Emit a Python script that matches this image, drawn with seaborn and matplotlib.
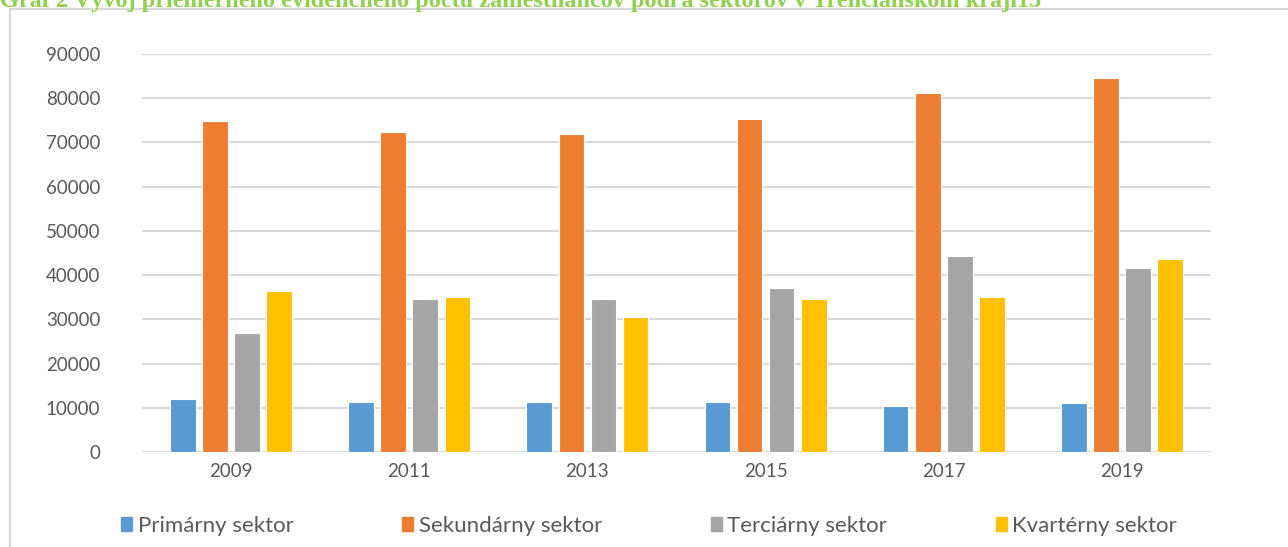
import pandas as pd
import matplotlib.pyplot as plt
import seaborn as sns
from matplotlib.patches import Rectangle

# Data
years = ['2009', '2011', '2013', '2015', '2017', '2019']
sectors = ['Primárny sektor', 'Sekundárny sektor', 'Terciárny sektor', 'Kvartérny sektor']
primarny = [12000, 11300, 11300, 11200, 10300, 11000]
sekundarny = [74800, 72300, 71900, 75300, 81100, 84500]
terciarny = [27000, 34600, 34600, 37000, 44400, 41500]
kvarterny = [36500, 35000, 30500, 34600, 35000, 43700]
colors = ['#5B9BD5', '#ED7D31', '#A5A5A5', '#FFC000']

title = ('Graf 2 Vývoj priemerného evidenčného počtu zamestnancov '
         'podľa sektorov v Trenčianskom kraji15')

rows = []
for name, vals in zip(sectors, [primarny, sekundarny, terciarny, kvarterny]):
    for y, v in zip(years, vals):
        rows.append({'rok': y, 'sektor': name, 'pocet': v})
df = pd.DataFrame(rows)

sns.set_style('white')
plt.rcParams['font.family'] = ['Lato', 'DejaVu Sans']

fig = plt.figure(figsize=(12.88, 5.47), dpi=100)
ax = fig.add_axes([142 / 1288, 1 - 452 / 547, (1211 - 142) / 1288, (452 - 54) / 547])

sns.barplot(data=df, x='rok', y='pocet', hue='sektor', order=years,
            hue_order=sectors, palette=colors, saturation=1, width=0.72, gap=0.2,
            edgecolor='white', linewidth=0.8, ax=ax, zorder=3)

ax.set_ylim(0, 90000)
ax.set_yticks(range(0, 90001, 10000))
ax.set_xlim(-0.5, len(years) - 0.5)
ax.yaxis.grid(True, color='#D9D9D9', linewidth=1.5, zorder=0)
ax.set_axisbelow(True)
for s in ax.spines.values():
    s.set_visible(False)
ax.set_xlabel('')
ax.set_ylabel('')
ax.tick_params(axis='y', length=0, pad=30, labelsize=13.5, labelcolor='#595959')
ax.tick_params(axis='x', length=0, pad=8, labelsize=13.5, labelcolor='#595959')

# Legend below the chart
ax.get_legend().remove()
handles = [Rectangle((0, 0), 1, 1, color=c) for c in colors]
fig.legend(handles, sectors, loc='center', ncol=4, mode='expand',
           bbox_to_anchor=(121 / 1288, 1 - 534 / 547, (1177 - 121) / 1288, 0.03),
           frameon=False, fontsize=16, labelcolor='#595959',
           handlelength=0.5, handleheight=0.65, handletextpad=0.25,
           borderpad=0, borderaxespad=0)

# Chart border and cut-off caption at the top
fig.patches.append(Rectangle((9.5 / 1288, -0.1), 1.2, 1 - 8.5 / 547 + 0.1,
                             transform=fig.transFigure, fill=False,
                             edgecolor='#D9D9D9', linewidth=1.5))
fig.text(0.0, 1 - 7 / 547, title, family='Liberation Serif', weight='bold',
         fontsize=17.5, color='#92D050', va='baseline', ha='left')

fig.savefig('out.png', dpi=100)
